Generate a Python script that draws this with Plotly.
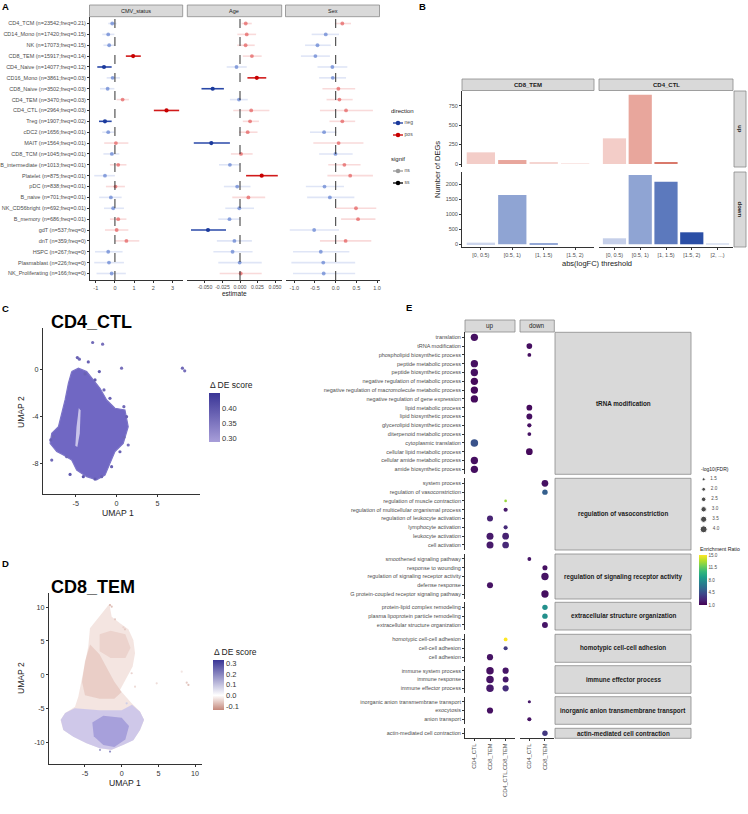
import plotly.graph_objects as go

W, H = 748, 814
FONT = "Liberation Sans, Arial, sans-serif"
GREY = "#4d4d4d"
AXL = "#333333"


def px(v):
    return v / W


def py(v):
    return 1 - v / H


# ---------------- Panel A data ----------------
cell_types = [
    "CD4_TCM (n=23542;freq=0.21)", "CD14_Mono (n=17420;freq=0.15)", "NK (n=17073;freq=0.15)",
    "CD8_TEM (n=15917;freq=0.14)", "CD4_Naive (n=14077;freq=0.12)", "CD16_Mono (n=3861;freq=0.03)",
    "CD8_Naive (n=3502;freq=0.03)", "CD4_TEM (n=3470;freq=0.03)", "CD4_CTL (n=2964;freq=0.03)",
    "Treg (n=1907;freq=0.02)", "cDC2 (n=1656;freq=0.01)", "MAIT (n=1564;freq=0.01)",
    "CD8_TCM (n=1045;freq=0.01)", "B_intermediate (n=1013;freq=0.01)", "Platelet (n=875;freq=0.01)",
    "pDC (n=838;freq=0.01)", "B_naive (n=701;freq=0.01)", "NK_CD56bright (n=692;freq=0.01)",
    "B_memory (n=686;freq=0.01)", "gdT (n=537;freq=0)", "dnT (n=359;freq=0)",
    "HSPC (n=267;freq=0)", "Plasmablast (n=226;freq=0)", "NK_Proliferating (n=166;freq=0)",
]
cmv_est = [-0.14, -0.35, -0.30, 0.95, -0.57, -0.12, -0.38, 0.40, 2.69, -0.52, -0.35, 0.05,
           -0.16, 0.17, -0.52, 0.03, -0.21, -0.09, 0.17, 0.09, 0.60, -0.35, -0.31, -0.17]
cmv_lo = [-0.35, -0.66, -0.60, 0.57, -0.92, -0.43, -0.78, 0.09, 2.03, -0.83, -0.66, -0.56,
          -0.60, -0.26, -1.08, -0.47, -0.82, -0.57, -0.26, -0.52, 0.00, -1.04, -1.08, -0.96]
cmv_hi = [0.09, -0.03, 0.00, 1.35, -0.17, 0.26, -0.03, 0.73, 3.35, -0.17, -0.03, 0.70,
          0.23, 0.60, 0.00, 0.52, 0.35, 0.47, 0.60, 0.70, 1.27, 0.40, 0.47, 0.57]
cmv_sig = ["ns", "ns", "ns", "ss", "ss", "ns", "ns", "ns", "ss", "ss", "ns", "ns",
           "ns", "ns", "ns", "ns", "ns", "ns", "ns", "ns", "ns", "ns", "ns", "ns"]

age_est = [0.0082, 0.0096, 0.0080, 0.0170, -0.0050, 0.0240, -0.0390, -0.0014, 0.0160, 0.0144, 0.0110, -0.0410,
           0.0014, -0.0144, 0.0310, -0.0040, 0.0120, -0.0010, -0.0150, -0.0457, -0.0080, -0.0106, -0.0005, 0.0010]
age_lo = [0.0024, -0.0038, -0.0040, 0.0040, -0.0190, 0.0106, -0.0550, -0.0144, -0.0096, 0.0040, -0.0014, -0.0660,
          -0.0130, -0.0300, 0.0087, -0.0230, -0.0110, -0.0210, -0.0310, -0.0700, -0.0330, -0.0380, -0.0310, -0.0290]
age_hi = [0.0168, 0.0230, 0.0210, 0.0310, 0.0096, 0.0375, -0.0230, 0.0110, 0.0420, 0.0270, 0.0250, -0.0144,
          0.0180, 0.0005, 0.0540, 0.0150, 0.0360, 0.0200, 0.0005, -0.0200, 0.0170, 0.0180, 0.0310, 0.0310]
age_sig = ["ns", "ns", "ns", "ns", "ns", "ss", "ss", "ns", "ns", "ns", "ns", "ss",
           "ns", "ns", "ss", "ns", "ns", "ns", "ns", "ss", "ns", "ns", "ns", "ns"]

sex_est = [0.16, -0.24, -0.44, -0.49, -0.08, -0.07, 0.065, 0.09, 0.25, 0.16, -0.28, 0.07,
           -0.005, 0.21, 0.35, -0.27, -0.14, 0.49, 0.54, -0.52, 0.24, -0.36, -0.30, -0.29]
sex_lo = [-0.02, -0.58, -0.74, -0.84, -0.44, -0.40, -0.32, -0.22, -0.38, -0.15, -0.62, -0.54,
          -0.40, -0.18, -0.20, -0.72, -0.69, 0.00, 0.13, -1.11, -0.38, -1.03, -1.07, -1.03]
sex_hi = [0.37, 0.08, -0.12, -0.14, 0.28, 0.25, 0.47, 0.41, 0.90, 0.47, 0.02, 0.67,
          0.41, 0.60, 0.90, 0.20, 0.45, 0.98, 0.96, 0.08, 0.86, 0.33, 0.47, 0.47]
sex_sig = ["ns"] * 24

facet_names = ["CMV_status", "Age", "Sex"]
direction_levels = ["neg", "pos"]
signif_levels = ["ns", "ss"]

# ---------------- Panel B data ----------------
thr_cd8 = ["[0, 0.5)", "[0.5, 1)", "[1, 1.5)", "[1.5, 2)"]
thr_cd4 = ["[0, 0.5)", "[0.5, 1)", "[1, 1.5)", "[1.5, 2)", "[2, ...)"]
cd8_up = [150, 51, 13, 8]
cd4_up = [330, 892, 13, 0, 0]
cd8_down = [55, 1644, 22, 0]
cd4_down = [200, 2311, 2089, 400, 15]
b_cols = ["CD8_TEM", "CD4_CTL"]
b_rows = ["up", "down"]

# ---------------- Panel C data (UMAP CD4_CTL, hand-read outline + points) ----------------
cd4_outline_x = [-5.49, -4.67, -3.66, -2.85, -2.03, -1.22, -0.20, 1.02, 1.42, 0.81, -0.20, -0.81, -1.42,
                 -2.44, -3.66, -4.88, -5.49, -6.50, -7.32, -8.13, -7.93, -7.11, -6.30, -5.89]
cd4_outline_y = [-0.20, 0.09, -0.20, -0.91, -1.62, -2.61, -3.32, -3.46, -4.88, -6.30, -7.00, -8.00, -9.00,
                 -9.40, -9.13, -8.57, -7.72, -7.29, -7.00, -6.30, -5.45, -4.88, -2.61, -1.19]
cd4_gap_x = [-4.62, -4.40, -4.50, -4.80, -5.05, -4.90]
cd4_gap_y = [-3.30, -3.50, -5.45, -6.60, -6.50, -4.90]
cd4_pts_x = [-2.93, -1.71, -4.80, -4.55, -3.46, -2.11, 0.61, 8.05, 8.33, -3.86, -2.64, -1.54, -0.81,
             0.89, 1.22, 1.42, 0.89, 0.41, -5.69, -7.93, -8.05, -7.72, -4.07, -2.64, -1.83, -6.10, -0.61]
cd4_pts_y = [2.27, 2.13, 0.99, 0.85, 0.62, -0.20, 0.09, 0.09, -0.14, -0.40, -0.91, -1.76, -2.47,
             -3.18, -4.03, -6.44, -5.79, -7.01, -8.94, -7.72, -6.01, -5.73, -9.13, -9.33, -9.13, -7.43, -8.28]
cd4_pts_score = [0.37, 0.36, 0.38, 0.37, 0.38, 0.39, 0.36, 0.37, 0.36, 0.38, 0.39, 0.37, 0.38,
                 0.37, 0.38, 0.36, 0.37, 0.38, 0.39, 0.37, 0.38, 0.37, 0.40, 0.39, 0.38, 0.37, 0.38]

# ---------------- Panel D data (UMAP CD8_TEM, hand-read regions + points) ----------------
cd8_outline_x = [-1.68, -1.36, -0.23, 0.91, 1.59, 1.82, 1.50, 0.45, -0.23, 1.36, 2.50, 3.05, 2.50, 1.59,
                 0.23, -1.36, -2.95, -4.77, -6.59, -7.95, -8.32, -7.73, -6.36, -5.91, -5.45, -5.00, -4.55, -4.32]
cd8_outline_y = [10.44, 8.58, 7.60, 6.72, 5.15, 3.19, 1.23, -0.74, -2.21, -4.17, -5.39, -6.62, -8.09, -9.56,
                 -10.29, -11.03, -10.78, -10.05, -9.07, -8.09, -6.62, -5.64, -4.66, -3.19, -0.74, 1.72, 4.17, 6.86]
cd8_neg_x = [-5.4, -5.0, -4.3, -3.0, -2.0, -1.0, 0.0, -1.0, -3.0, -5.0]
cd8_neg_y = [-1.0, 2.0, 4.5, 3.0, 1.0, -1.0, -2.5, -3.5, -3.5, -3.0]
cd8_top_x = [-3.0, -1.5, 0.5, 1.2, 0.5, -1.5, -3.0]
cd8_top_y = [6.0, 6.5, 6.0, 4.0, 2.5, 2.5, 3.5]
cd8_pos_x = [-8.3, -7.7, -6.4, -3.0, 0.0, 1.4, 2.5, 3.05, 2.5, 1.6, 0.2, -1.4, -3.0, -4.8, -6.6, -7.95]
cd8_pos_y = [-6.6, -5.6, -4.9, -5.2, -5.2, -4.4, -5.4, -6.6, -8.1, -9.6, -10.3, -11.0, -10.8, -10.05, -9.1, -8.1]
cd8_core_x = [-4.0, -2.5, 0.0, 1.0, 0.5, -1.0, -2.5, -3.8]
cd8_core_y = [-7.0, -6.0, -6.3, -7.5, -9.5, -10.6, -10.3, -9.0]
cd8_pts_x = [-1.59, -1.36, -0.91, 0.23, 0.45, 4.77, 8.18, 8.86, 9.09, 1.36, 1.82, 0.68, -2.95, -1.59]
cd8_pts_y = [10.29, 10.05, 8.19, 7.01, 6.72, -1.23, 0.49, -1.13, -1.47, 0.25, -1.72, -4.17, -11.03, -11.27]
cd8_pts_score = [-0.08, -0.07, -0.06, -0.05, -0.06, -0.04, -0.03, -0.06, -0.07, -0.05, -0.04, 0.08, 0.15, 0.18]

# ---------------- Panel E data ----------------
e_groups = ["tRNA modification", "regulation of vasoconstriction", "regulation of signaling receptor activity",
            "extracellular structure organization", "homotypic cell-cell adhesion", "immune effector process",
            "inorganic anion transmembrane transport", "actin-mediated cell contraction"]
g1_terms = ["translation", "tRNA modification", "phospholipid biosynthetic process", "peptide metabolic process",
            "peptide biosynthetic process", "negative regulation of metabolic process",
            "negative regulation of macromolecule metabolic process", "negative regulation of gene expression",
            "lipid metabolic process", "lipid biosynthetic process", "glycerolipid biosynthetic process",
            "diterpenoid metabolic process", "cytoplasmic translation", "cellular lipid metabolic process",
            "cellular amide metabolic process", "amide biosynthetic process"]
g2_terms = ["system process", "regulation of vasoconstriction", "regulation of muscle contraction",
            "regulation of multicellular organismal process", "regulation of leukocyte activation",
            "lymphocyte activation", "leukocyte activation", "cell activation"]
g3_terms = ["smoothened signaling pathway", "response to wounding", "regulation of signaling receptor activity",
            "defense response", "G protein-coupled receptor signaling pathway"]
g4_terms = ["protein-lipid complex remodeling", "plasma lipoprotein particle remodeling",
            "extracellular structure organization"]
g5_terms = ["homotypic cell-cell adhesion", "cell-cell adhesion", "cell adhesion"]
g6_terms = ["immune system process", "immune response", "immune effector process"]
g7_terms = ["inorganic anion transmembrane transport", "exocytosis", "anion transport"]
g8_terms = ["actin-mediated cell contraction"]
up_sets = ["CD4_CTL", "CD8_TEM", "CD4_CTL,CD8_TEM"]
down_sets = ["CD4_CTL", "CD8_TEM"]

dot_term = ["translation", "tRNA modification", "phospholipid biosynthetic process", "peptide metabolic process",
            "peptide biosynthetic process", "negative regulation of metabolic process",
            "negative regulation of macromolecule metabolic process", "negative regulation of gene expression",
            "lipid metabolic process", "lipid biosynthetic process", "glycerolipid biosynthetic process",
            "diterpenoid metabolic process", "cytoplasmic translation", "cellular lipid metabolic process",
            "cellular amide metabolic process", "amide biosynthetic process",
            "system process", "regulation of vasoconstriction", "regulation of muscle contraction",
            "regulation of multicellular organismal process", "regulation of leukocyte activation",
            "lymphocyte activation", "leukocyte activation", "leukocyte activation", "cell activation",
            "cell activation",
            "smoothened signaling pathway", "response to wounding", "regulation of signaling receptor activity",
            "defense response", "G protein-coupled receptor signaling pathway",
            "protein-lipid complex remodeling", "plasma lipoprotein particle remodeling",
            "extracellular structure organization",
            "homotypic cell-cell adhesion", "cell-cell adhesion", "cell adhesion",
            "immune system process", "immune system process", "immune response", "immune response",
            "immune effector process", "immune effector process",
            "inorganic anion transmembrane transport", "exocytosis", "anion transport",
            "actin-mediated cell contraction"]
dot_dir = ["up", "down", "down", "up", "up", "up", "up", "up", "down", "down", "down", "down", "up", "down", "up", "up",
           "down", "down", "up", "up", "up", "up", "up", "up", "up", "up",
           "down", "down", "down", "up", "down",
           "down", "down", "down",
           "up", "up", "up",
           "up", "up", "up", "up", "up", "up",
           "down", "up", "down",
           "down"]
dot_set = ["CD4_CTL"] * 16 + [
    "CD8_TEM", "CD8_TEM", "CD4_CTL,CD8_TEM", "CD4_CTL,CD8_TEM", "CD8_TEM", "CD4_CTL,CD8_TEM",
    "CD8_TEM", "CD4_CTL,CD8_TEM", "CD8_TEM", "CD4_CTL,CD8_TEM",
    "CD4_CTL", "CD8_TEM", "CD8_TEM", "CD8_TEM", "CD8_TEM",
    "CD8_TEM", "CD8_TEM", "CD8_TEM",
    "CD4_CTL,CD8_TEM", "CD4_CTL,CD8_TEM", "CD8_TEM",
    "CD8_TEM", "CD4_CTL,CD8_TEM", "CD8_TEM", "CD4_CTL,CD8_TEM", "CD8_TEM", "CD4_CTL,CD8_TEM",
    "CD4_CTL", "CD8_TEM", "CD4_CTL",
    "CD8_TEM"]
dot_fdr = [4.2, 3.2, 2.0, 4.2, 4.2, 4.2, 4.2, 4.2, 3.2, 3.3, 2.3, 2.0, 4.3, 3.8, 4.2, 4.2,
           3.8, 3.0, 1.3, 2.2, 3.4, 2.2, 4.0, 3.8, 4.0, 3.8,
           2.0, 2.8, 4.2, 3.4, 4.2,
           3.0, 3.0, 3.3,
           2.0, 2.2, 3.5,
           4.3, 3.5, 4.3, 3.3, 4.3, 3.5,
           1.6, 3.5, 2.2,
           3.0]
dot_er = [1.6, 1.5, 1.5, 1.6, 1.6, 1.3, 1.3, 1.4, 1.4, 1.5, 1.6, 1.7, 4.6, 1.3, 1.5, 1.5,
          1.6, 5.2, 12.8, 2.0, 2.4, 2.7, 2.0, 2.3, 2.0, 2.6,
          1.8, 1.6, 1.7, 1.7, 1.5,
          8.0, 8.0, 1.8,
          15.0, 3.5, 1.7,
          1.6, 1.8, 1.7, 1.9, 2.0, 2.8,
          1.9, 1.6, 1.7,
          3.3]
fdr_levels = [1.5, 2.0, 2.5, 3.0, 3.5, 4.0]
er_ticks = [1.0, 4.5, 8.0, 11.5, 15.0]

# ---------------- styles ----------------
A_STYLE = {
    ("neg", "ns"): ("rgba(66,103,200,0.58)", "rgba(66,103,200,0.17)"),
    ("pos", "ns"): ("rgba(222,60,60,0.58)", "rgba(222,60,60,0.19)"),
    ("neg", "ss"): ("#1b3a9c", "#2a48a8"),
    ("pos", "ss"): ("#c80000", "#d11a1a"),
}
LEG_DIR = {"neg": "#1b3a9c", "pos": "#c80000"}
LEG_SIG = {"ns": "#9a9a9a", "ss": "#000000"}
cd8_up_col = ["#f3cdc8", "#e8a69c", "#f5d5d1", "#fae7e5"]
cd4_up_col = ["#f3cdc8", "#e8a69c", "#d9796b", "#ffffff", "#ffffff"]
cd8_down_col = ["#ccd5ec", "#8fa4d3", "#94a8d6", "#ffffff"]
cd4_down_col = ["#c5cfe9", "#8fa4d3", "#5c79bd", "#2b4fa6", "#dfe5f3"]
STRIP_FILL = "#d9d9d9"
STRIP_LINE = "#8a8a8a"


def fdr_size(v):
    return 1.6 * v + 0.6


fig = go.Figure()
shapes = []
annotations = []


def ann(text, x, y, size, bold=False, color="#1a1a1a", xanchor="center", yanchor="middle", angle=0):
    annotations.append(dict(text=("<b>%s</b>" % text) if bold else text, x=px(x), y=py(y), xref="paper",
                            yref="paper", showarrow=False, xanchor=xanchor, yanchor=yanchor, textangle=angle,
                            font=dict(size=size, color=color, family=FONT)))


def strip(x0, y0, x1, y1, text, size, bold=False, angle=0):
    shapes.append(dict(type="rect", xref="paper", yref="paper", x0=px(x0), x1=px(x1), y0=py(y1), y1=py(y0),
                       fillcolor=STRIP_FILL, line=dict(color=STRIP_LINE, width=0.8), layer="below"))
    ann(text, (x0 + x1) / 2, (y0 + y1) / 2, size, bold=bold, angle=angle)


def tickfont(size=5.5, color=GREY):
    return dict(size=size, color=color, family=FONT)


# ---------------- Panel A traces ----------------
rows = list(range(len(cell_types)))
for (est, lo, hi, sig), xa in zip([(cmv_est, cmv_lo, cmv_hi, cmv_sig), (age_est, age_lo, age_hi, age_sig),
                                   (sex_est, sex_lo, sex_hi, sex_sig)], ["x", "x2", "x3"]):
    for s in signif_levels:
        for d in direction_levels:
            idx = [i for i in rows if sig[i] == s and ((est[i] < 0) == (d == "neg"))]
            if not idx:
                continue
            pcol, lcol = A_STYLE[(d, s)]
            fig.add_trace(go.Scatter(
                x=[est[i] for i in idx], y=[i for i in idx], mode="markers",
                marker=dict(color=pcol, size=4.2 if s == "ss" else 3.8, line=dict(width=0)),
                error_x=dict(type="data", symmetric=False, array=[hi[i] - est[i] for i in idx],
                             arrayminus=[est[i] - lo[i] for i in idx], color=lcol,
                             thickness=1.6, width=0),
                xaxis=xa, yaxis="y", hoverinfo="skip", showlegend=False))
    shapes.append(dict(type="line", xref=xa, yref="y domain", x0=0, x1=0, y0=0, y1=1,
                       line=dict(color="#333333", width=1, dash="dash")))

# Panel A legend (hidden axes x18/y18)
leg_rows_dir = [1 + i for i in range(len(direction_levels))]
leg_rows_sig = [len(direction_levels) + 3 + i for i in range(len(signif_levels))]
for levels, rws, cmap in [(direction_levels, leg_rows_dir, LEG_DIR), (signif_levels, leg_rows_sig, LEG_SIG)]:
    for lev, r in zip(levels, rws):
        fig.add_trace(go.Scatter(x=[0.2, 1.2], y=[r, r], mode="lines", line=dict(color=cmap[lev], width=1.3),
                                 xaxis="x18", yaxis="y18", hoverinfo="skip", showlegend=False))
        fig.add_trace(go.Scatter(x=[0.7], y=[r], mode="markers+text", text=["  " + lev],
                                 textposition="middle right", textfont=dict(size=5, color=GREY, family=FONT),
                                 marker=dict(color=cmap[lev], size=4.5), xaxis="x18", yaxis="y18",
                                 hoverinfo="skip", showlegend=False))
fig.add_trace(go.Scatter(x=[0.0, 0.0], y=[0, len(direction_levels) + 2], mode="text",
                         text=["direction", "signif"], textposition="middle right",
                         textfont=dict(size=6, color="#1a1a1a", family=FONT),
                         xaxis="x18", yaxis="y18", hoverinfo="skip", showlegend=False))

# ---------------- Panel B traces ----------------
for vals, cols, xa, ya in [(cd8_up, cd8_up_col, "x4", "y4"), (cd4_up, cd4_up_col, "x5", "y4"),
                           (cd8_down, cd8_down_col, "x6", "y5"), (cd4_down, cd4_down_col, "x7", "y5")]:
    fig.add_trace(go.Bar(x=list(range(len(vals))), y=vals, width=0.9, marker=dict(color=cols, line=dict(width=0)),
                         xaxis=xa, yaxis=ya, hoverinfo="skip", showlegend=False))

# ---------------- Panel C traces ----------------
fig.add_trace(go.Scatter(x=cd4_outline_x + cd4_outline_x[:1], y=cd4_outline_y + cd4_outline_y[:1],
                         mode="lines", fill="toself", fillcolor="#7067c3", line=dict(color="#7c74c8", width=1.2),
                         xaxis="x8", yaxis="y8", hoverinfo="skip", showlegend=False))
fig.add_trace(go.Scatter(x=cd4_gap_x + cd4_gap_x[:1], y=cd4_gap_y + cd4_gap_y[:1],
                         mode="lines", fill="toself", fillcolor="#c9c4ea", line=dict(color="#c9c4ea", width=0),
                         xaxis="x8", yaxis="y8", hoverinfo="skip", showlegend=False))
fig.add_trace(go.Scatter(
    x=cd4_pts_x, y=cd4_pts_y, mode="markers",
    marker=dict(color=cd4_pts_score, size=3.2, cmin=0.287, cmax=0.45,
                colorscale=[[0, "#a89ed9"], [1, "#3a3596"]], showscale=True,
                colorbar=dict(x=px(209), xanchor="left", y=py(417.5), yanchor="middle", len=49, lenmode="pixels",
                              thickness=11, thicknessmode="pixels", xpad=0, ypad=0, outlinewidth=0,
                              tickvals=[0.30, 0.35, 0.40], ticktext=["0.30", "0.35", "0.40"], ticks="",
                              tickfont=dict(size=7.5, color="#333333", family=FONT))),
    xaxis="x8", yaxis="y8", hoverinfo="skip", showlegend=False))

# ---------------- Panel D traces ----------------
for xs, ys, col in [(cd8_outline_x, cd8_outline_y, "rgba(214,160,148,0.28)"),
                    (cd8_neg_x, cd8_neg_y, "rgba(205,140,125,0.25)"),
                    (cd8_top_x, cd8_top_y, "rgba(205,140,125,0.20)"),
                    (cd8_pos_x, cd8_pos_y, "rgba(200,195,234,0.85)"),
                    (cd8_core_x, cd8_core_y, "rgba(150,142,212,0.70)")]:
    fig.add_trace(go.Scatter(x=xs + xs[:1], y=ys + ys[:1], mode="lines", fill="toself", fillcolor=col,
                             line=dict(width=0, color=col), xaxis="x9", yaxis="y9",
                             hoverinfo="skip", showlegend=False))
fig.add_trace(go.Scatter(
    x=cd8_pts_x, y=cd8_pts_y, mode="markers",
    marker=dict(color=cd8_pts_score, size=2.2, cmin=-0.137, cmax=0.33,
                colorscale=[[0, "#c4877a"], [0.293, "#ffffff"], [1, "#3a3596"]], showscale=True,
                colorbar=dict(x=px(213), xanchor="left", y=py(685), yanchor="middle", len=50, lenmode="pixels",
                              thickness=11, thicknessmode="pixels", xpad=0, ypad=0, outlinewidth=0,
                              tickvals=[-0.1, 0.0, 0.1, 0.2, 0.3], ticktext=["-0.1", "0.0", "0.1", "0.2", "0.3"],
                              ticks="", tickfont=dict(size=7.5, color="#333333", family=FONT))),
    xaxis="x9", yaxis="y9", hoverinfo="skip", showlegend=False))

# ---------------- Panel E traces ----------------
group_terms = [g1_terms, g2_terms, g3_terms, g4_terms, g5_terms, g6_terms, g7_terms, g8_terms]
term_group = {}
term_row = {}
for gi, terms in enumerate(group_terms):
    for ri, t in enumerate(terms):
        term_group[t] = gi
        term_row[t] = ri
first = True
for gi in range(len(group_terms)):
    for dname, xa, sets in [("up", "x10", up_sets), ("down", "x11", down_sets)]:
        idx = [k for k in range(len(dot_term)) if term_group[dot_term[k]] == gi and dot_dir[k] == dname]
        if not idx:
            continue
        mk = dict(color=[dot_er[k] for k in idx], size=[fdr_size(dot_fdr[k]) for k in idx],
                  colorscale="Viridis", cmin=1, cmax=15, line=dict(width=0), opacity=1)
        if first:
            mk.update(showscale=True, colorbar=dict(
                x=px(699), xanchor="left", y=py(580), yanchor="middle", len=50, lenmode="pixels",
                thickness=8, thicknessmode="pixels", xpad=0, ypad=0, outlinewidth=0,
                tickvals=er_ticks, ticktext=["%.1f" % v for v in er_ticks], ticks="",
                tickfont=dict(size=4.6, color=GREY, family=FONT)))
            first = False
        fig.add_trace(go.Scatter(x=[sets.index(dot_set[k]) for k in idx], y=[term_row[dot_term[k]] for k in idx],
                                 mode="markers", marker=mk, xaxis=xa, yaxis="y%d" % (10 + gi),
                                 hoverinfo="skip", showlegend=False))

# E size legend (hidden axes x19/y19)
fig.add_trace(go.Scatter(x=[0.15] * len(fdr_levels), y=fdr_levels, mode="markers+text",
                         text=["   %.1f" % v for v in fdr_levels], textposition="middle right",
                         textfont=dict(size=4.6, color=GREY, family=FONT),
                         marker=dict(color="black", size=[fdr_size(v) for v in fdr_levels]),
                         xaxis="x19", yaxis="y19", hoverinfo="skip", showlegend=False))

# ---------------- Layout axes ----------------
common = dict(showgrid=False, zeroline=False, fixedrange=True, tickangle=0)
ax_line = dict(showline=True, linecolor=AXL, linewidth=0.9, ticks="outside", ticklen=2, tickcolor=AXL, tickwidth=0.8)
hidden = dict(visible=False, showgrid=False, zeroline=False, fixedrange=True)
layout = dict(width=W, height=H, margin=dict(l=0, r=0, t=0, b=0), paper_bgcolor="white", plot_bgcolor="white",
              font=dict(family=FONT), showlegend=False)

# Panel A
layout["yaxis"] = dict(domain=[py(280), py(17)], range=[23.6, -0.6], tickvals=rows, ticktext=cell_types,
                       anchor="x", tickfont=tickfont(5.5), **ax_line, **common)
layout["xaxis"] = dict(domain=[px(90), px(183)], range=[-1.3, 3.55], tickvals=[-1, 0, 1, 2, 3],
                       ticktext=["-1", "0", "1", "2", "3"], anchor="y", tickfont=tickfont(5.5), **ax_line, **common)
layout["xaxis2"] = dict(domain=[px(187), px(282)], range=[-0.0757, 0.06],
                        tickvals=[-0.05, -0.025, 0, 0.025, 0.05],
                        ticktext=["-0.050", "-0.025", "0.000", "0.025", "0.050"], anchor="y",
                        tickfont=tickfont(5.2), **ax_line, **common)
layout["xaxis3"] = dict(domain=[px(286), px(380)], range=[-1.2, 1.07], tickvals=[-1, -0.5, 0, 0.5, 1],
                        ticktext=["-1.0", "-0.5", "0.0", "0.5", "1.0"], anchor="y",
                        tickfont=tickfont(5.5), **ax_line, **common)
layout["xaxis18"] = dict(domain=[px(391), px(441)], range=[0, 5], anchor="y18", **hidden)
layout["yaxis18"] = dict(domain=[py(189), py(105)], range=[6.5, -0.5], anchor="x18", **hidden)

# Panel B
layout["xaxis4"] = dict(domain=[px(462), px(594)], range=[-0.6, 3.6], anchor="y4", showticklabels=False, **common)
layout["xaxis5"] = dict(domain=[px(599), px(733)], range=[-0.6, 4.6], anchor="y4", showticklabels=False, **common)
layout["xaxis6"] = dict(domain=[px(462), px(594)], range=[-0.6, 3.6], anchor="y5", tickvals=list(range(len(thr_cd8))),
                        ticktext=thr_cd8, tickfont=tickfont(5.5), **ax_line, **common)
layout["xaxis7"] = dict(domain=[px(599), px(733)], range=[-0.6, 4.6], anchor="y5", tickvals=list(range(len(thr_cd4))),
                        ticktext=thr_cd4, tickfont=tickfont(5.5), **ax_line, **common)
layout["yaxis4"] = dict(domain=[py(167), py(91)], range=[-38.6, 939], anchor="x4", tickvals=[0, 250, 500, 750],
                        ticktext=["0", "250", "500", "750"], tickfont=tickfont(5.5), **ax_line, **common)
layout["yaxis5"] = dict(domain=[py(247), py(172)], range=[-90, 2410], anchor="x6",
                        tickvals=[0, 500, 1000, 1500, 2000], ticktext=["0", "500", "1000", "1500", "2000"],
                        tickfont=tickfont(5.5), **ax_line, **common)

# Panel C
layout["xaxis8"] = dict(domain=[px(43), px(200)], range=[-9.0, 10.2], anchor="y8", tickvals=[-5, 0, 5],
                        ticktext=["-5", "0", "5"], tickfont=tickfont(7.2, "#333333"), **ax_line, **common)
layout["yaxis8"] = dict(domain=[py(494), py(328)], range=[-10.6, 3.5], anchor="x8", tickvals=[-8, -4, 0],
                        ticktext=["-8", "-4", "0"], tickfont=tickfont(7.2, "#333333"), **ax_line, **common)
# Panel D
layout["xaxis9"] = dict(domain=[px(49), px(201.7)], range=[-9.9, 10.9], anchor="y9", tickvals=[-5, 0, 5, 10],
                        ticktext=["-5", "0", "5", "10"], tickfont=tickfont(7.2, "#333333"), **ax_line, **common)
layout["yaxis9"] = dict(domain=[py(764), py(593)], range=[-13.1, 12.06], anchor="x9",
                        tickvals=[-10, -5, 0, 5, 10], ticktext=["-10", "-5", "0", "5", "10"],
                        tickfont=tickfont(7.2, "#333333"), **ax_line, **common)

# Panel E
g_dom = [(332.3, 474.3), (478.3, 550), (554, 599), (602.3, 630), (634.3, 662.3), (665.7, 693.3),
         (696.7, 724.3), (728.3, 738.3)]
common_e = dict(common)
common_e.pop("tickangle")
layout["xaxis10"] = dict(domain=[px(465), px(515)], range=[-0.6, 2.6], anchor="y17", tickvals=[0, 1, 2],
                         ticktext=up_sets, tickangle=-90, tickfont=tickfont(5.7), **ax_line, **common_e)
layout["xaxis11"] = dict(domain=[px(520), px(554.3)], range=[-0.6, 1.6], anchor="y17", tickvals=[0, 1],
                         ticktext=down_sets, tickangle=-90, tickfont=tickfont(5.7), **ax_line, **common_e)
for gi, terms in enumerate(group_terms):
    top, bot = g_dom[gi]
    n = len(terms)
    layout["yaxis%d" % (10 + gi)] = dict(domain=[py(bot), py(top)], range=[n - 1 + 0.57, -0.57], anchor="x10",
                                         tickvals=list(range(n)), ticktext=terms, tickfont=tickfont(5.5),
                                         **ax_line, **common)
    strip(555, top, 691, bot, e_groups[gi], 6.3, bold=True)
layout["xaxis19"] = dict(domain=[px(699), px(730)], range=[0, 1], anchor="y19", **hidden)
layout["yaxis19"] = dict(domain=[py(534), py(474)], range=[4.235, 1.235], anchor="x19", **hidden)

# ---------------- strips & text ----------------
for name, (x0, x1) in zip(facet_names, [(89.5, 182.7), (187.3, 281.7), (285.5, 379.5)]):
    strip(x0, 5, x1, 16.7, name, 5.5)
strip(462, 79, 594, 90.5, b_cols[0], 6, bold=True)
strip(599, 79, 733, 90.5, b_cols[1], 6, bold=True)
strip(734, 91, 746, 167, b_rows[0], 6, bold=True, angle=90)
strip(734, 172, 746, 247, b_rows[1], 6, bold=True, angle=90)
strip(465, 320, 515, 332, "up", 6.3)
strip(520, 320, 554.3, 332, "down", 6.3)

ann("A", 5, 6, 9.5, bold=True, color="black")
ann("B", 422, 6, 9.5, bold=True, color="black")
ann("C", 5, 308, 9.5, bold=True, color="black")
ann("D", 5, 563, 9.5, bold=True, color="black")
ann("E", 409, 307, 9.5, bold=True, color="black")
ann("estimate", 235, 293, 6.5, color="#1a1a1a")
ann("abs(logFC) threshold", 597, 263, 7.5, color="#1a1a1a")
ann("Number of DEGs", 437, 170, 7.5, color="#1a1a1a", angle=-90)
ann("CD4_CTL", 49, 322, 18, bold=True, color="black", xanchor="left")
ann("UMAP 1", 118, 513, 8.6, color="#222222")
ann("UMAP 2", 21, 412, 8.6, color="#222222", angle=-90)
ann("\u0394 DE score", 208, 385, 8.5, color="#222222", xanchor="left")
ann("CD8_TEM", 49, 587, 18, bold=True, color="black", xanchor="left")
ann("UMAP 1", 125, 783, 8.6, color="#222222")
ann("UMAP 2", 21, 678, 8.6, color="#222222", angle=-90)
ann("\u0394 DE score", 212, 652, 8.5, color="#222222", xanchor="left")
ann("-log10(FDR)", 699, 469, 5, color="#1a1a1a", xanchor="left")
ann("Enrichment Ratio", 698, 549, 5.2, color="#1a1a1a", xanchor="left")

layout["shapes"] = shapes
layout["annotations"] = annotations
fig.update_layout(**layout)
fig.write_html("out.html", config={"displayModeBar": False},
               post_script="document.body.style.margin='0';document.body.style.overflow='hidden';")
